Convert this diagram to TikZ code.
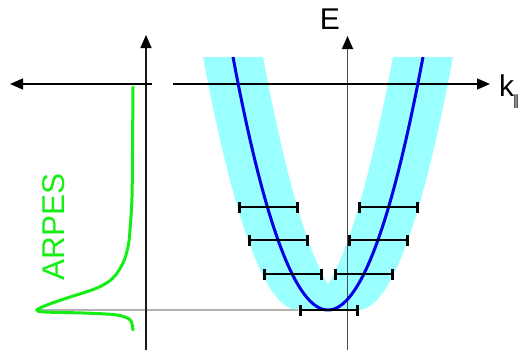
\documentclass[tikz,border=0pt]{standalone}
\usepackage{fontspec}
\setmainfont{Liberation Sans}
\newfontfamily\djv{DejaVu Sans}
\usetikzlibrary{arrows.meta}
\definecolor{bandcyan}{RGB}{153,255,255}
\definecolor{bandblue}{RGB}{0,0,230}
\definecolor{arpesgreen}{RGB}{20,238,20}
\definecolor{axgray}{RGB}{75,75,75}
\begin{document}
\begin{tikzpicture}[x=1pt,y=-1pt,
  axis/.style={line width=1.4pt,-{Triangle[length=13pt,width=11pt,color=black]}},
  errbar/.style={line width=2pt,{Bar[width=11pt,line width=2.6pt]}-{Bar[width=11pt,line width=2.6pt]}},
  lbl/.style={inner sep=0pt,font=\fontsize{30}{30}\selectfont}]
\useasboundingbox (0,0) rectangle (523,354);
% band
\fill[bandcyan] plot[domain=-95:0,samples=40] ({298+\x},{310-0.028033*\x*\x})
  -- plot[domain=0:95,samples=40] ({358+\x},{310-0.028033*\x*\x})
  -- plot[domain=95:30,samples=30] ({298+\x},{310-0.028033*\x*\x})
  -- plot[domain=-30:-95,samples=30] ({358+\x},{310-0.028033*\x*\x}) -- cycle;
% coordinates
\coordinate (lvb) at (146,350); \coordinate (lvt) at (146,35);
\coordinate (lhs) at (152,84); \coordinate (lhe) at (10,84);
\coordinate (rvb) at (347.5,350); \coordinate (rvt) at (347.5,36);
\coordinate (rhs) at (173,84); \coordinate (rhe) at (490,84);
\coordinate (gs) at (37,310); \coordinate (ge) at (298,310);
% gray level line
\draw[gray!60,line width=1.2pt] (gs) -- (ge);
% axes
\draw[axis,black!90] (lvb) -- (lvt);
\draw[axis] (lhs) -- (lhe);
\draw[axis,axgray,line width=1.8pt] (rvb) -- (rvt);
\draw[axis] (rhs) -- (rhe);
% labels
\node[lbl] (E) at (330,19) {E};
\node[lbl,anchor=base west] (k) at (499,96) {k\hspace{-1.5pt}\raisebox{-0.3em}{\djv\fontsize{14}{14}\selectfont ∥}};
\node[lbl,font=\fontsize{31.5}{31.5}\selectfont,text=arpesgreen,rotate=90] (arpes) at (54,227) {ARPES};
% parabola
\draw[bandblue,line width=3pt] plot[domain=-95:95,samples=80] ({328+\x},{310-0.028033*\x*\x});
% error bars
\foreach \n/\a/\b/\y in {a/238/299/207, b/358/419/207, c/248/309/240, d/348/409/240, e/263/323/274, f/334/394/274, g/299/359/310}{
  \coordinate (\n1) at (\a,\y); \coordinate (\n2) at (\b,\y);
  \draw[errbar] (\n1) -- (\n2);
}
% ARPES curve
\draw[arpesgreen,line width=3pt,line cap=round] plot[smooth,tension=0.55] coordinates {
 (133,87) (132.5,150) (132,197) (130,230) (128,247) (123,263) (113,278) (97,288) (67,298) (47,305) (37,310)
 (45,312) (83,313) (113,314.5) (125,317) (131,321) (133,330)};
\end{tikzpicture}
\end{document}
